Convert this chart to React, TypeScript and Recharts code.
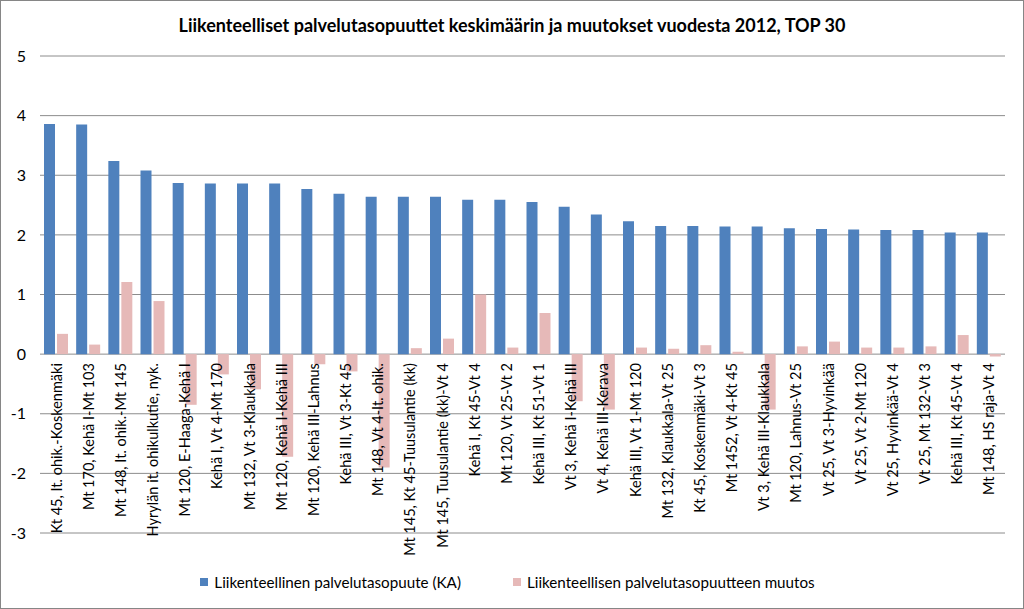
import React from "react";
import {
  Bar,
  BarChart,
  CartesianGrid,
  LabelList,
  Legend,
  XAxis,
  YAxis,
} from "recharts";

const categories = [
  "Kt 45, It. ohik.-Koskenmäki",
  "Mt 170, Kehä I-Mt 103",
  "Mt 148, It. ohik.-Mt 145",
  "Hyrylän it. ohikulkutie, nyk.",
  "Mt 120, E-Haaga-Kehä I",
  "Kehä I, Vt 4-Mt 170",
  "Mt 132, Vt 3-Klaukkala",
  "Mt 120, Kehä I-Kehä III",
  "Mt 120, Kehä III-Lahnus",
  "Kehä III, Vt 3-Kt 45",
  "Mt 148, Vt 4-It. ohik.",
  "Mt 145, Kt 45-Tuusulantie (kk)",
  "Mt 145, Tuusulantie (kk)-Vt 4",
  "Kehä I, Kt 45-Vt 4",
  "Mt 120, Vt 25-Vt 2",
  "Kehä III, Kt 51-Vt 1",
  "Vt 3, Kehä I-Kehä III",
  "Vt 4, Kehä III-Kerava",
  "Kehä III, Vt 1-Mt 120",
  "Mt 132, Klaukkala-Vt 25",
  "Kt 45, Koskenmäki-Vt 3",
  "Mt 1452, Vt 4-Kt 45",
  "Vt 3, Kehä III-Klaukkala",
  "Mt 120, Lahnus-Vt 25",
  "Vt 25, Vt 3-Hyvinkää",
  "Vt 25, Vt 2-Mt 120",
  "Vt 25, Hyvinkää-Vt 4",
  "Vt 25, Mt 132-Vt 3",
  "Kehä III, Kt 45-Vt 4",
  "Mt 148, HS raja-Vt 4",
];

const average = [
  3.86, 3.85, 3.24, 3.08, 2.87, 2.86, 2.86, 2.86, 2.77, 2.69, 2.64, 2.64, 2.64,
  2.59, 2.59, 2.55, 2.47, 2.34, 2.23, 2.15, 2.15, 2.14, 2.14, 2.11, 2.1, 2.09,
  2.08, 2.08, 2.04, 2.04,
];

const change = [
  0.34, 0.16, 1.21, 0.89, -0.85, -0.34, -0.59, -1.72, -0.17, -0.29, -1.9, 0.1,
  0.26, 1.0, 0.11, 0.69, -0.79, -0.93, 0.11, 0.09, 0.15, 0.04, -0.93, 0.13,
  0.21, 0.11, 0.11, 0.13, 0.32, -0.04,
];

const yTicks = [-3, -2, -1, 0, 1, 2, 3, 4, 5];

const seriesNames = {
  average: "Liikenteellinen palvelutasopuute (KA)",
  change: "Liikenteellisen palvelutasopuutteen muutos",
};

const data = categories.map((name, i) => ({
  name,
  average: average[i],
  change: change[i],
}));

const FONT = "Lato, 'Liberation Sans', Arial, sans-serif";
const BLUE = "#4F81BD";
const PINK = "#E6B9B8";

// category name drawn rotated, hanging just under the zero line
function CategoryLabel(props: any) {
  const { x, y, width, height, value } = props;
  const cx = x + width + 1;
  const top = y + height + 9;
  return (
    <text
      x={cx}
      y={top}
      transform={`rotate(-90 ${cx} ${top})`}
      textAnchor="end"
      dominantBaseline="central"
      fontSize={14.5}
      fill="#000"
      fontFamily={FONT}
    >
      {value}
    </text>
  );
}

function LegendContent(props: any) {
  const { payload } = props;
  return (
    <div
      style={{
        display: "flex",
        justifyContent: "center",
        gap: 52,
        fontFamily: FONT,
        fontSize: 15.2,
        lineHeight: "20px",
        color: "#000",
      }}
    >
      {payload.map((p: any) => (
        <div key={p.value} style={{ display: "flex", alignItems: "center" }}>
          <span
            style={{
              width: 8,
              height: 8,
              background: p.color,
              display: "inline-block",
              marginRight: 6,
            }}
          />
          {p.value}
        </div>
      ))}
    </div>
  );
}

export default function App() {
  return (
    <div
      style={{
        position: "absolute",
        left: 0,
        top: 0,
        width: 1024,
        height: 609,
        background: "#fff",
        border: "1px solid #868686",
        boxSizing: "border-box",
      }}
    >
      <div
        style={{
          position: "absolute",
          top: 13,
          left: 0,
          width: 1022,
          textAlign: "center",
          fontFamily: FONT,
          fontWeight: "bold",
          fontSize: 18,
          color: "#000",
        }}
      >
        Liikenteelliset palvelutasopuuttet keskimäärin ja muutokset vuodesta
        2012, TOP 30
      </div>
      <div style={{ position: "absolute", left: -1, top: -1 }}>
        <BarChart
          width={1024}
          height={609}
          data={data}
          margin={{ top: 56, right: 19, bottom: 56, left: 10 }}
          barCategoryGap={4}
          barGap={2}
        >
          <CartesianGrid vertical={false} stroke="#8c8c8c" />
          <XAxis dataKey="name" hide />
          <YAxis
            domain={[-3, 5]}
            ticks={yTicks}
            width={30}
            axisLine={false}
            tickLine={false}
            tickSize={0}
            tickMargin={14}
            tick={{ fontSize: 16, fill: "#000", fontFamily: FONT }}
          />
          <Legend
            verticalAlign="bottom"
            height={20}
            wrapperStyle={{ bottom: 17 }}
            content={<LegendContent />}
          />
          <Bar
            dataKey="average"
            name={seriesNames.average}
            fill={BLUE}
            isAnimationActive={false}
          >
            <LabelList dataKey="name" content={<CategoryLabel />} />
          </Bar>
          <Bar
            dataKey="change"
            name={seriesNames.change}
            fill={PINK}
            isAnimationActive={false}
          />
        </BarChart>
      </div>
    </div>
  );
}
